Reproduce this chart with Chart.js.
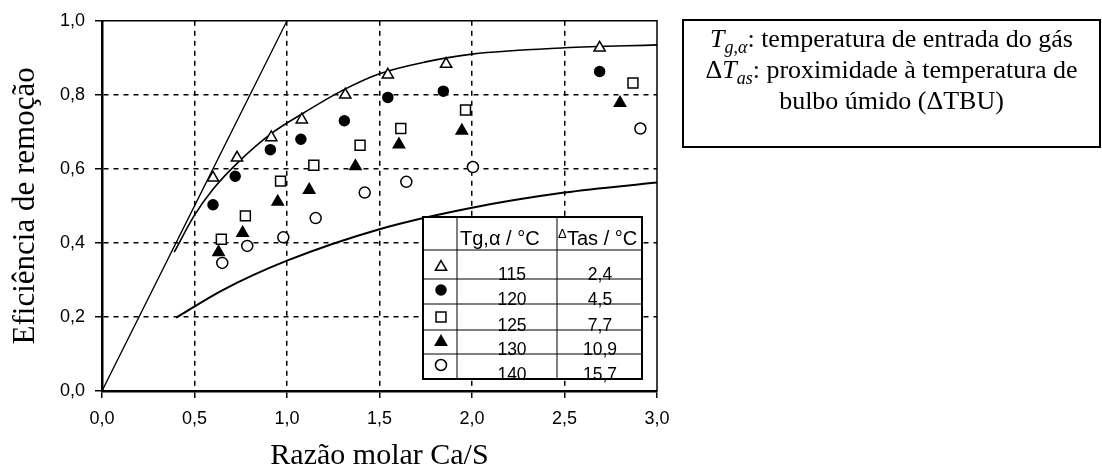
<!DOCTYPE html>
<html>
<head>
<meta charset="utf-8">
<script src="https://cdn.jsdelivr.net/npm/chart.js@4.4.0/dist/chart.umd.min.js"></script>
<style>
  html, body { margin: 0; padding: 0; background: #fff; }
</style>
</head>
<body>
<canvas id="chart" width="1102" height="475"></canvas>
<script>
// values: Ca/S molar ratio (x) and removal efficiency (y)
const ratio115 = [0.60, 0.73, 0.915, 1.08, 1.315, 1.545, 1.86, 2.69];
const eff115 = [0.576, 0.63, 0.685, 0.733, 0.80, 0.854, 0.883, 0.927];
const ratio120 = [0.60, 0.72, 0.91, 1.075, 1.31, 1.545, 1.845, 2.69];
const eff120 = [0.503, 0.58, 0.652, 0.68, 0.73, 0.793, 0.81, 0.863];
const ratio125 = [0.645, 0.775, 0.965, 1.145, 1.395, 1.615, 1.965, 2.87];
const eff125 = [0.41, 0.473, 0.567, 0.61, 0.664, 0.709, 0.759, 0.832];
const ratio130 = [0.63, 0.76, 0.95, 1.12, 1.37, 1.605, 1.945, 2.80];
const eff130 = [0.375, 0.427, 0.511, 0.543, 0.607, 0.666, 0.703, 0.778];
const ratio140 = [0.65, 0.785, 0.98, 1.155, 1.42, 1.645, 2.005, 2.91];
const eff140 = [0.346, 0.392, 0.415, 0.467, 0.536, 0.565, 0.605, 0.709];

// reference curves
const diagX = [0, 1.0];
const diagY = [0, 1.0];
const upperX = [0.39, 0.5, 0.6, 0.73, 0.92, 1.09, 1.3, 1.5, 1.75, 2.0, 2.5, 3.0];
const upperY = [0.375, 0.475, 0.545, 0.615, 0.697, 0.751, 0.812, 0.857, 0.889, 0.91, 0.927, 0.935];
const lowerX = [0.4, 0.65, 1.0, 1.5, 2.0, 2.5, 3.0];
const lowerY = [0.198, 0.272, 0.352, 0.437, 0.495, 0.536, 0.563];

// inset table
const tGas = [115, 120, 125, 130, 140];
const dTas = [2.4, 4.5, 7.7, 10.9, 15.7];

const xTicks = [0, 0.5, 1.0, 1.5, 2.0, 2.5, 3.0];
const yTicks = [0, 0.2, 0.4, 0.6, 0.8, 1.0];

const comma = v => v.toFixed(1).replace('.', ',');
const pts = (xs, ys) => xs.map((x, i) => ({ x: x, y: ys[i] }));

const markerSets = [
  { data: pts(ratio115, eff115), pointStyle: 'triangle', pointRadius: 6.5, backgroundColor: '#fff' },
  { data: pts(ratio120, eff120), pointStyle: 'circle', pointRadius: 5, backgroundColor: '#000' },
  { data: pts(ratio125, eff125), pointStyle: 'rect', pointRadius: 7, backgroundColor: '#fff' },
  { data: pts(ratio130, eff130), pointStyle: 'triangle', pointRadius: 6.5, backgroundColor: '#000' },
  { data: pts(ratio140, eff140), pointStyle: 'circle', pointRadius: 5.5, backgroundColor: '#fff' }
].map(d => Object.assign(d, { type: 'scatter', borderColor: '#000', borderWidth: 1.5 }));

const curve = (xs, ys, w) => ({
  type: 'line',
  data: pts(xs, ys),
  showLine: true,
  borderColor: '#000',
  borderWidth: w,
  pointRadius: 0,
  fill: false,
  cubicInterpolationMode: 'monotone'
});

function drawMarker(ctx, ds, x, y) {
  ctx.save();
  ctx.fillStyle = ds.backgroundColor;
  ctx.strokeStyle = ds.borderColor;
  ctx.lineWidth = ds.borderWidth;
  Chart.helpers.drawPoint(ctx, { pointStyle: ds.pointStyle, radius: ds.pointRadius, rotation: 0, borderWidth: ds.borderWidth }, x, y);
  ctx.restore();
}

// the boxed inset table and the note box to the right
const extras = {
  id: 'extras',
  afterDatasetsDraw(chart) {
    const ctx = chart.ctx;
    const a = chart.chartArea;
    // frame around plot
    ctx.save();
    ctx.strokeStyle = '#000';
    ctx.lineWidth = 1.5;
    ctx.beginPath();
    ctx.moveTo(a.left, a.top);
    ctx.lineTo(a.right, a.top);
    ctx.lineTo(a.right, a.bottom);
    ctx.stroke();

    // table
    const L = 423, R = 642, T = 217, B = 379;
    const c1 = 457, c2 = 557;
    const rows = [250, 279, 304, 330, 354, 379];
    ctx.fillStyle = '#fff';
    ctx.fillRect(L, T, R - L, B - T);
    ctx.lineWidth = 1;
    ctx.beginPath();
    ctx.moveTo(c1, T); ctx.lineTo(c1, B);
    ctx.moveTo(c2, T); ctx.lineTo(c2, B);
    for (let i = 0; i < rows.length - 1; i++) {
      ctx.moveTo(L, rows[i]); ctx.lineTo(R, rows[i]);
    }
    ctx.stroke();
    ctx.lineWidth = 2;
    ctx.strokeRect(L, T, R - L, B - T);

    ctx.fillStyle = '#000';
    ctx.textBaseline = 'alphabetic';
    ctx.font = '20px "Liberation Sans", Arial, sans-serif';
    ctx.textAlign = 'left';
    ctx.fillText('Tg,α / °C', 460, 245);
    ctx.font = '13px "Liberation Sans", Arial, sans-serif';
    ctx.fillText('Δ', 558, 238);
    ctx.font = '20px "Liberation Sans", Arial, sans-serif';
    ctx.fillText('Tas / °C', 567, 245);
    ctx.font = '17.5px "Liberation Sans", Arial, sans-serif';
    ctx.textAlign = 'center';
    const symY = [267, 290, 317, 342, 365];
    for (let i = 0; i < tGas.length; i++) {
      ctx.fillText(String(tGas[i]), 512, rows[i + 1] + 1);
      ctx.fillText(comma(dTas[i]), 600, rows[i + 1] + 1);
      drawMarker(ctx, chart.data.datasets[i], 441, symY[i]);
    }
    ctx.restore();

    // note box
    ctx.save();
    ctx.strokeStyle = '#000';
    ctx.lineWidth = 2;
    ctx.strokeRect(683, 20, 417, 127);
    ctx.fillStyle = '#000';
    ctx.textBaseline = 'alphabetic';
    const serif = '"Liberation Serif", "Times New Roman", serif';
    const lines = [
      [['T', 'italic 26px ' + serif, 0], ['g,α', 'italic 18px ' + serif, 6], [': temperatura de entrada do gás', '26px ' + serif, 0]],
      [['Δ', '26px ' + serif, 0], ['T', 'italic 26px ' + serif, 0], ['as', 'italic 18px ' + serif, 6], [': proximidade à temperatura de', '26px ' + serif, 0]],
      [['bulbo úmido (ΔTBU)', '26px ' + serif, 0]]
    ];
    const base = [47, 78, 109];
    lines.forEach((runs, li) => {
      let w = 0;
      runs.forEach(r => { ctx.font = r[1]; w += ctx.measureText(r[0]).width; });
      let x = 891.5 - w / 2;
      ctx.textAlign = 'left';
      runs.forEach(r => {
        ctx.font = r[1];
        ctx.fillText(r[0], x, base[li] + r[2]);
        x += ctx.measureText(r[0]).width;
      });
    });
    ctx.restore();
  }
};

const gridColor = edges => c => (c.tick && edges.some(e => Math.abs(c.tick.value - e) < 1e-6)) ? 'rgba(0,0,0,0)' : '#000';

new Chart(document.getElementById('chart'), {
  type: 'scatter',
  data: {
    datasets: markerSets.concat([
      curve(diagX, diagY, 1.3),
      curve(upperX, upperY, 1.6),
      curve(lowerX, lowerY, 2)
    ])
  },
  options: {
    responsive: false,
    animation: false,
    layout: { padding: { top: 19, right: 445, left: 0, bottom: 0 } },
    plugins: { legend: { display: false }, tooltip: { enabled: false } },
    scales: {
      x: {
        type: 'linear',
        min: 0,
        max: 3,
        afterFit: s => { s.height = 84; },
        afterBuildTicks: s => { s.ticks = xTicks.map(v => ({ value: v })); },
        ticks: {
          callback: v => comma(v),
          color: '#000',
          padding: 10,
          maxRotation: 0,
          font: { family: '"Liberation Sans", Arial, sans-serif', size: 18 }
        },
        grid: { color: gridColor([0, 3]), lineWidth: 1.5, tickColor: '#000', tickWidth: 1.5, tickLength: 7 },
        border: { color: '#000', width: 2.5, dash: [5, 5] },
        title: {
          display: true,
          text: 'Razão molar Ca/S',
          color: '#000',
          padding: { top: 0, bottom: 1 },
          font: { family: '"Liberation Serif", "Times New Roman", serif', size: 30 }
        }
      },
      y: {
        type: 'linear',
        min: 0,
        max: 1,
        afterFit: s => { s.width = 102; },
        afterBuildTicks: s => { s.ticks = yTicks.map(v => ({ value: v })); },
        ticks: {
          callback: v => comma(v),
          color: '#000',
          padding: 10,
          font: { family: '"Liberation Sans", Arial, sans-serif', size: 18 }
        },
        grid: { color: gridColor([0, 1]), lineWidth: 1.5, tickColor: '#000', tickWidth: 1.5, tickLength: 7 },
        border: { color: '#000', width: 2.5, dash: [5, 5] },
        title: {
          display: true,
          text: 'Eficiência de remoção',
          color: '#000',
          padding: { top: 7, bottom: 0 },
          font: { family: '"Liberation Serif", "Times New Roman", serif', size: 31 }
        }
      }
    }
  },
  plugins: [extras]
});
</script>
</body>
</html>
